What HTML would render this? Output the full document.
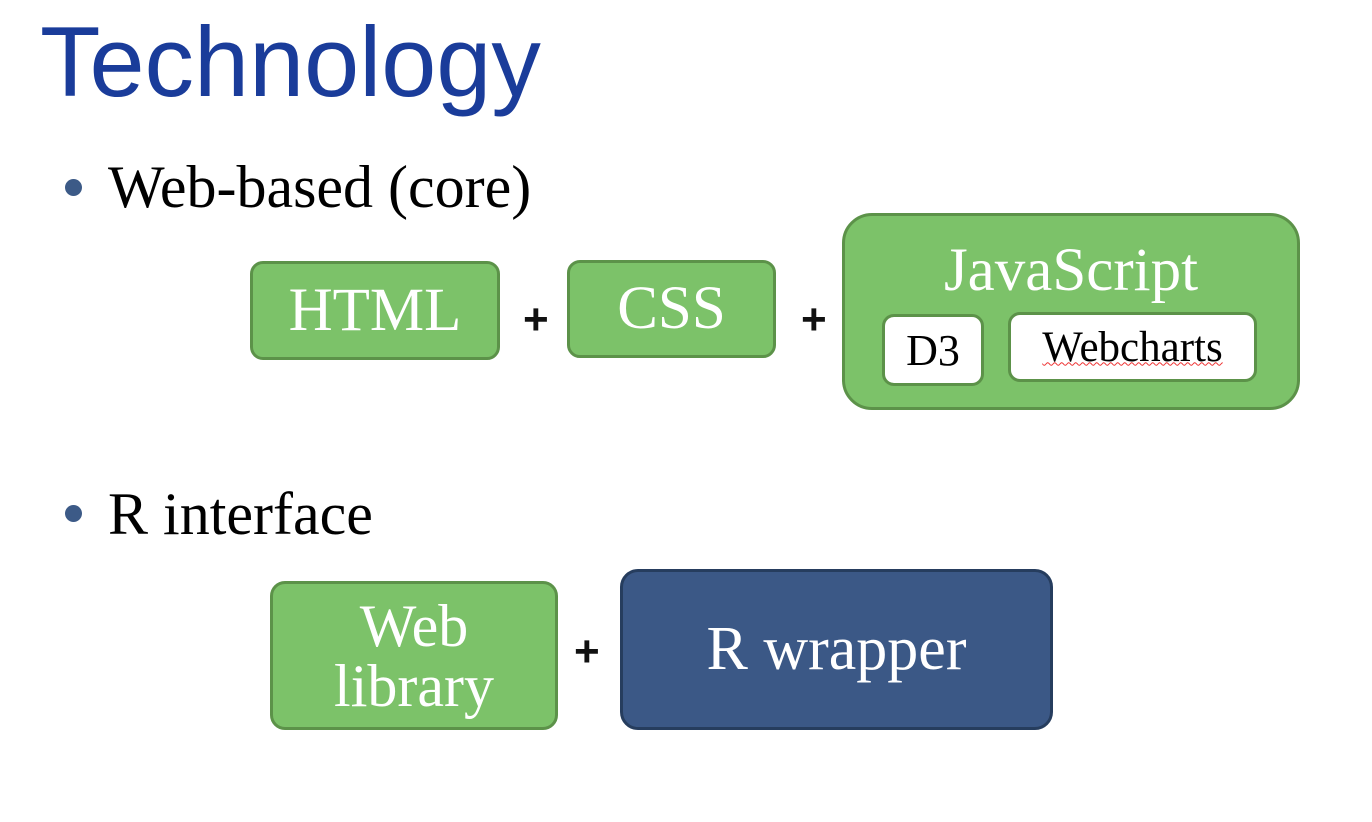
<!DOCTYPE html>
<html><head><meta charset="utf-8"><style>
body{margin:0;width:1372px;height:822px;background:#fff;position:relative;overflow:hidden;font-family:"Liberation Serif",serif}
.a{position:absolute;box-sizing:border-box}
.g{background:#7cc269;border:3px solid #5c9249;color:#fff;display:flex;align-items:center;justify-content:center;text-align:center}
.w{background:#fff;border:3px solid #5c9249;color:#000;display:flex;align-items:center;justify-content:center}
.b{background:#3b5886;border:3px solid #263d5e;color:#fff;display:flex;align-items:center;justify-content:center}
.p{font-family:"Liberation Sans",sans-serif;font-size:44px;font-weight:bold;color:#111}
.dot{width:17px;height:17px;border-radius:50%;background:#3c5a87}
</style></head><body>
<div class="a" style="left:40px;top:5px;font-family:'Liberation Sans',sans-serif;font-size:99px;color:#1a3c9a;white-space:nowrap">Technology</div>
<div class="a dot" style="left:65px;top:179px"></div>
<div class="a" style="left:108px;top:153px;font-size:60px;white-space:nowrap">Web-based (core)</div>
<div class="a dot" style="left:65px;top:505px"></div>
<div class="a" style="left:108px;top:480px;font-size:60px;white-space:nowrap">R interface</div>
<div class="a g" style="left:250px;top:261px;width:250px;height:99px;border-radius:13px;font-size:61px">HTML</div>
<div class="a p" style="left:523px;top:295px">+</div>
<div class="a g" style="left:567px;top:260px;width:209px;height:98px;border-radius:13px;font-size:61px">CSS</div>
<div class="a p" style="left:801px;top:295px">+</div>
<div class="a g" style="left:842px;top:213px;width:458px;height:197px;border-radius:30px;font-size:61px;align-items:flex-start;padding-top:20px">JavaScript</div>
<div class="a w" style="left:882px;top:314px;width:102px;height:72px;border-radius:12px;font-size:44px">D3</div>
<div class="a w" style="left:1008px;top:312px;width:249px;height:70px;border-radius:12px;font-size:43px"><span style="text-decoration:underline wavy #e33;text-decoration-thickness:1px">Webcharts</span></div>
<div class="a g" style="left:270px;top:581px;width:288px;height:149px;border-radius:15px;font-size:60px;line-height:60px">Web<br>library</div>
<div class="a p" style="left:574px;top:627px">+</div>
<div class="a b" style="left:620px;top:569px;width:433px;height:161px;border-radius:18px;font-size:62px">R wrapper</div>
</body></html>
